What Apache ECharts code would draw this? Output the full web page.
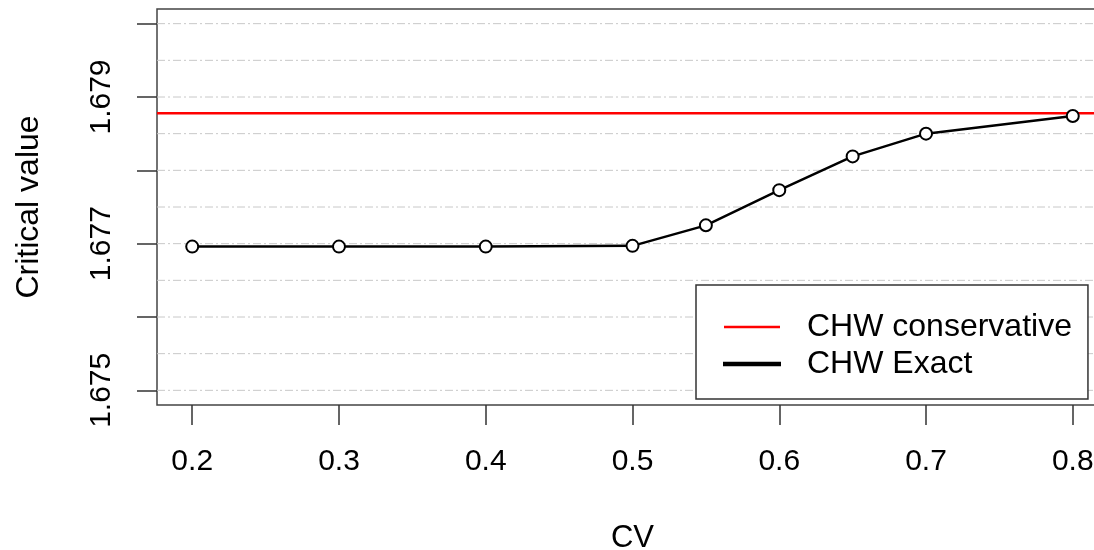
<!DOCTYPE html>
<html>
<head>
<meta charset="utf-8">
<script src="https://cdn.jsdelivr.net/npm/echarts@6/dist/echarts.min.js"></script>
<style>html,body{margin:0;padding:0;background:#fff}#c{width:1094px;height:550px}</style>
</head>
<body>
<div id="c"></div>
<script>
var cvValues = [0.2, 0.3, 0.4, 0.5, 0.55, 0.6, 0.65, 0.7, 0.8];
var exactValues = [1.67696, 1.67696, 1.67696, 1.67697, 1.67725, 1.67773, 1.67819, 1.67850, 1.67874];
var conservativeValue = 1.67878;
var xTicks = [0.2, 0.3, 0.4, 0.5, 0.6, 0.7, 0.8];
var yTicks = [1.675, 1.676, 1.677, 1.678, 1.679, 1.680];
var yLabels = [1.675, 1.677, 1.679];
var gridValues = [1.675, 1.6755, 1.676, 1.6765, 1.677, 1.6775, 1.678, 1.6785, 1.679, 1.6795, 1.680];
var xMin = 0.176, xMax = 0.824, yMin = 1.6748, yMax = 1.6802;

var font = 'Liberation Sans, Arial, sans-serif';
var exactData = cvValues.map(function (x, i) { return [x, exactValues[i]]; });

var gridSeries = gridValues.map(function (g) {
  return {
    name: '_grid', type: 'line', silent: true, z: 1, symbol: 'none',
    data: [[xMin, g], [xMax, g]],
    lineStyle: {color: '#c8c8c8', width: 1, type: [8, 3, 2, 3]},
    itemStyle: {color: '#c8c8c8'}
  };
});

var chart = echarts.init(document.getElementById('c'), null, {renderer: 'canvas'});
chart.setOption({
  animation: false,
  backgroundColor: '#fff',
  textStyle: {fontFamily: font},
  grid: {left: 157, top: 9, width: 951, height: 396, show: true, borderColor: '#444', borderWidth: 1.5, backgroundColor: 'transparent', containLabel: false, outerBoundsMode: 'none'},
  xAxis: {
    type: 'value', min: xMin, max: xMax,
    name: 'CV', nameLocation: 'middle', nameGap: 118,
    nameTextStyle: {fontSize: 31, color: '#000', fontFamily: font},
    axisLine: {show: false},
    axisTick: {show: true, length: 20, inside: false, customValues: xTicks, lineStyle: {color: '#333', width: 1.5}},
    axisLabel: {customValues: xTicks, fontSize: 30, color: '#000', margin: 42, fontFamily: font,
      formatter: function (v) { return v.toFixed(1); }},
    splitLine: {show: false}
  },
  yAxis: {
    type: 'value', min: yMin, max: yMax,
    name: 'Critical value', nameLocation: 'middle', nameGap: 112,
    nameTextStyle: {fontSize: 32, color: '#000', fontFamily: font},
    axisLine: {show: false},
    axisTick: {show: true, length: 20, inside: false, customValues: yTicks, lineStyle: {color: '#333', width: 1.5}},
    axisLabel: {customValues: yLabels, rotate: 90, fontSize: 30, color: '#000', margin: 40, fontFamily: font,
      formatter: function (v) { return v.toFixed(3); }},
    splitLine: {show: false}
  },
  legend: {
    orient: 'vertical', left: 696, top: 285,
    padding: [26, 16, 19, 27],
    itemGap: 5, itemWidth: 56, itemHeight: 2.5,
    borderColor: '#333', borderWidth: 1.5, backgroundColor: '#fff',
    textStyle: {fontSize: 32, color: '#000', lineHeight: 31, fontFamily: font, padding: [0, 0, 0, 22]},
    data: [{name: 'CHW conservative', icon: 'rect'}, {name: 'CHW Exact', icon: 'rect'}]
  },
  series: gridSeries.concat([
    {
      name: 'CHW conservative', type: 'line', z: 3, symbol: 'none',
      data: [[xMin, conservativeValue], [xMax, conservativeValue]],
      itemStyle: {color: '#ff0000'}, lineStyle: {color: '#ff0000', width: 2.5}
    },
    {
      name: 'CHW Exact', type: 'line', z: 4,
      data: exactData,
      symbol: 'emptyCircle', symbolSize: 12,
      itemStyle: {color: '#000', borderColor: '#000', borderWidth: 2},
      lineStyle: {color: '#000', width: 2.5}
    }
  ])
});
</script>
</body>
</html>
